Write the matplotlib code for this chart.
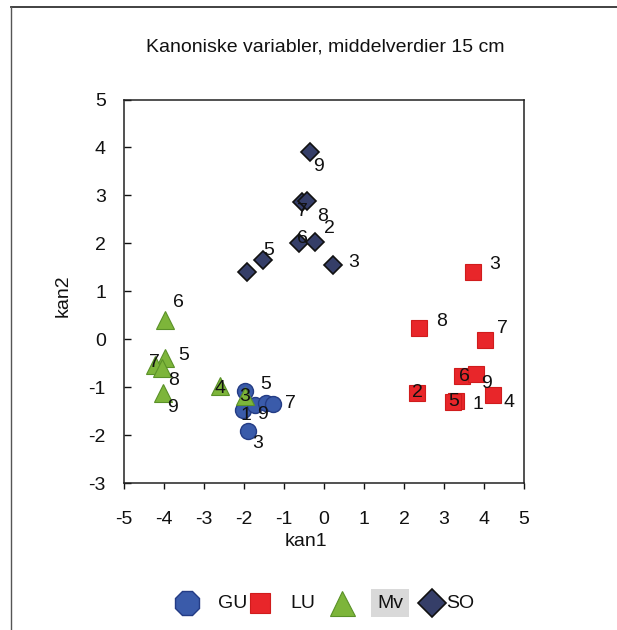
import matplotlib
matplotlib.use("Agg")
import matplotlib.pyplot as plt
from matplotlib.lines import Line2D

plt.rcParams['font.family'] = ['Liberation Sans', 'DejaVu Sans']

# Canonical variable means (kan1, kan2) per group, with point labels
gu_labels = ["5", "1", "9", "6", "7", "3"]
gu_kan1 = [-1.98, -2.02, -1.73, -1.45, -1.27, -1.89]
gu_kan2 = [-1.09, -1.47, -1.38, -1.33, -1.36, -1.92]

lu_labels = ["3", "8", "7", "6", "9", "2", "1", "5", "4"]
lu_kan1 = [3.72, 2.38, 4.03, 3.44, 3.80, 2.33, 3.30, 3.23, 4.23]
lu_kan2 = [1.41, 0.23, -0.01, -0.77, -0.72, -1.12, -1.28, -1.30, -1.16]

mv_labels = ["6", "5", "7", "8", "9", "4", "3"]
mv_kan1 = [-3.975, -3.975, -4.23, -4.06, -4.02, -2.60, -1.98]
mv_kan2 = [0.41, -0.39, -0.53, -0.60, -1.12, -0.98, -1.19]

so_labels = ["9", "7", "8", "6", "2", "5", "3", ""]
so_kan1 = [-0.35, -0.55, -0.42, -0.625, -0.225, -1.53, 0.23, -1.93]
so_kan2 = [3.91, 2.87, 2.88, 2.00, 2.03, 1.66, 1.55, 1.41]

x_ticks = [-5, -4, -3, -2, -1, 0, 1, 2, 3, 4, 5]
y_ticks = [-3, -2, -1, 0, 1, 2, 3, 4, 5]

# label offsets in pixels (dx, dy), one per point
gu_off = [(21, 7), (3, -6), (8, -9), None, (17, 1), (9, -12)]
lu_off = [(22, 7), (22, 7), (17, 11), (3, 0), (10, -10), (0, 0), (22, -4), (0, 0), (16, -8)]
mv_off = [(13, 17), (19, 2), (0, 2), (12, -13), (9, -15), (0, -2), (0, 0)]
so_off = [(9, -15), (0, -10), (15, -15), (3, 5), (14, 13), (6, 9), (20, 2), None]

FS = 14
W, H = 617, 630
DPI = 100
fig = plt.figure(figsize=(W / DPI, H / DPI), dpi=DPI)
fig.patch.set_facecolor("white")

ax_l, ax_r, ax_t, ax_b = 124, 524, 99.5, 483
ax = fig.add_axes([ax_l / W, 1 - ax_b / H, (ax_r - ax_l) / W, (ax_b - ax_t) / H])

styles = {
    "GU": dict(marker="o", ms=11.5, mfc="#3A5BAA", mec="#243C85", mew=1.0),
    "LU": dict(marker="s", ms=11, mfc="#E8262A", mec="#D01C1C", mew=0.8),
    "Mv": dict(marker="^", ms=12.5, mfc="#7DB53A", mec="#5A9128", mew=0.8),
    "SO": dict(marker="D", ms=9, mfc="#353E68", mec="#111111", mew=1.2),
}

series = [
    ("GU", gu_kan1, gu_kan2, gu_labels, gu_off),
    ("LU", lu_kan1, lu_kan2, lu_labels, lu_off),
    ("Mv", mv_kan1, mv_kan2, mv_labels, mv_off),
    ("SO", so_kan1, so_kan2, so_labels, so_off),
]

for z, (name, xs, ys, labs, offs) in enumerate(series):
    ax.plot(xs, ys, linestyle="none", zorder=3 + z, **styles[name])

for name, xs, ys, labs, offs in series:
    for x, y, lab, off in zip(xs, ys, labs, offs):
        if off is None or not lab:
            continue
        ax.annotate(lab, (x, y), xytext=(off[0] * 72 / DPI, off[1] * 72 / DPI),
                    textcoords="offset points", ha="center", va="center",
                    fontsize=FS, color="#111111", zorder=10)

ax.set_xlim(-5, 5)
ax.set_ylim(-3, 5)
ax.set_xticks(x_ticks)
ax.set_yticks(y_ticks)
ax.set_xticklabels([str(t) for t in x_ticks])
ax.set_yticklabels([str(t) for t in y_ticks])
ax.tick_params(axis="x", direction="out", length=4.5, width=1, pad=16, labelsize=FS, colors="#111111")
ax.tick_params(axis="y", direction="in", length=5, width=1, pad=13, labelsize=FS, colors="#111111")
for s in ax.spines.values():
    s.set_linewidth(1.1)
    s.set_color("#222222")

fig.text(325 / W, 1 - 47 / H, "Kanoniske variabler, middelverdier 15 cm",
         ha="center", va="center", fontsize=FS, color="#111111")
fig.text(306 / W, 1 - 541 / H, "kan1", ha="center", va="center", fontsize=FS, color="#111111")
fig.text(63 / W, 1 - 296 / H, "kan2", ha="center", va="center", rotation=90,
         fontsize=FS, color="#111111")

# legend row
leg_y = 1 - 603 / H
leg_items = [("GU", 187, 233, "8", 18), ("LU", 260, 303, "s", 15),
             ("Mv", 342, 390, "^", 18), ("SO", 432, 460, "D", 14)]
for name, mx, tx, mk, size in leg_items:
    st = dict(styles[name])
    st["marker"] = mk
    st["ms"] = size
    fig.add_artist(Line2D([mx / W], [leg_y], linestyle="none", transform=fig.transFigure, **st))
    kw = {}
    if name == "Mv":
        kw["bbox"] = dict(boxstyle="square,pad=0.3", fc="#D9D9D9", ec="none")
    fig.text(tx / W, leg_y, name, ha="center", va="center", fontsize=FS, color="#111111", **kw)

# outer frame lines
fig.add_artist(Line2D([11 / W, 1], [1 - 7 / H, 1 - 7 / H], transform=fig.transFigure,
                      color="#333333", lw=1.3))
fig.add_artist(Line2D([11 / W, 11 / W], [1 - 7 / H, 0], transform=fig.transFigure,
                      color="#555555", lw=1.0))

fig.savefig("out.png", dpi=DPI, facecolor="white")
